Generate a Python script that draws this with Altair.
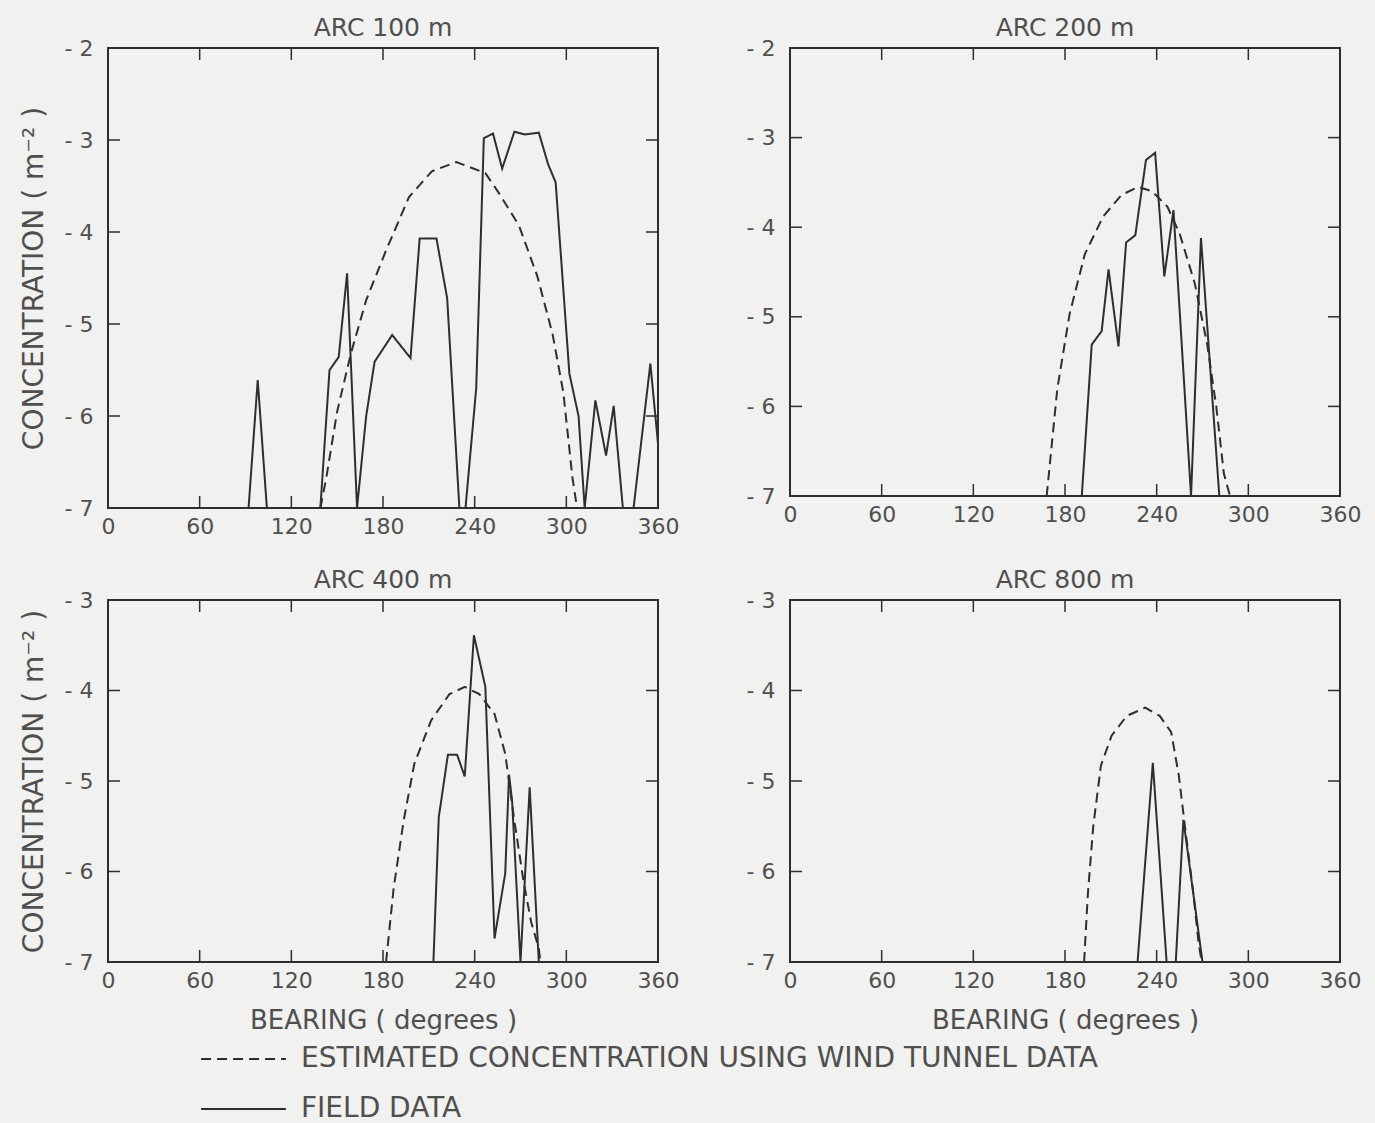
import altair as alt
import pandas as pd

# ---------------- data ----------------
TITLES = ["ARC 100 m", "ARC 200 m", "ARC 400 m", "ARC 800 m"]
EST_LABEL = "ESTIMATED CONCENTRATION USING WIND TUNNEL DATA"
FIELD_LABEL = "FIELD DATA"
Y_TITLE = "CONCENTRATION ( m\u207b\u00b2 )"
X_TITLE = "BEARING ( degrees )"

x_ticks = [0, 60, 120, 180, 240, 300, 360]
x_inner_ticks = [60, 120, 180, 240, 300]
y_ticks_top = [-2, -3, -4, -5, -6, -7]
y_ticks_bottom = [-3, -4, -5, -6, -7]

arc100_field_bearing = [92, 98, 104, 139, 145, 151, 156.5, 163, 169, 174.5, 186, 198, 204, 215, 222, 230, 234,
                        241, 246, 252, 258, 266, 273, 282, 288, 293, 302, 308, 312, 319, 326, 331, 337, 344, 355, 360]
arc100_field_conc = [-7, -5.61, -7, -7, -5.5, -5.36, -4.45, -7, -6.0, -5.41, -5.12, -5.37, -4.07, -4.07, -4.72, -7, -7,
                     -5.7, -2.98, -2.93, -3.31, -2.91, -2.94, -2.92, -3.26, -3.46, -5.54, -6.0, -7, -5.83, -6.43, -5.89,
                     -7, -7, -5.43, -6.3]
arc100_est_bearing = [139, 143, 150, 159, 169, 182, 197, 212, 228, 247, 256, 269, 281, 291, 298, 304, 307]
arc100_est_conc = [-7, -6.66, -5.95, -5.32, -4.74, -4.2, -3.62, -3.34, -3.24, -3.36, -3.58, -3.93, -4.48, -5.11,
                   -5.74, -6.67, -7]

arc200_field_bearing = [191, 197.5, 204, 208.5, 215, 220, 226, 233, 239, 245, 251, 262.5, 269, 281]
arc200_field_conc = [-7, -5.31, -5.16, -4.47, -5.33, -4.17, -4.09, -3.25, -3.17, -4.55, -3.81, -7, -4.12, -7]
arc200_est_bearing = [168, 175, 183, 193, 205, 217, 228, 237, 247, 255, 265, 273, 279, 284, 288]
arc200_est_conc = [-7, -5.8, -4.97, -4.3, -3.88, -3.64, -3.55, -3.6, -3.77, -4.07, -4.63, -5.3, -6.0, -6.75, -7]

arc400_field_bearing = [213, 216.5, 222.5, 228.5, 233.5, 239.5, 247, 253, 260, 262.5, 264.5, 270, 276, 282]
arc400_field_conc = [-7, -5.4, -4.71, -4.71, -4.95, -3.39, -3.96, -6.74, -6.02, -4.93, -5.22, -7, -5.07, -7]
arc400_est_bearing = [182, 187, 193.5, 200.5, 211.5, 223.5, 233.5, 243, 253, 260, 266, 272, 277, 282, 283]
arc400_est_conc = [-7, -6.18, -5.44, -4.81, -4.33, -4.04, -3.96, -4.04, -4.26, -4.7, -5.44, -6.11, -6.56, -6.85, -7]

arc800_field_bearing = [227.5, 237.5, 246.5, 252.5, 257.5, 270]
arc800_field_conc = [-7, -4.8, -7, -7, -5.43, -7]
arc800_est_bearing = [192.5, 195, 198.5, 203.5, 210.5, 220.5, 232.5, 242, 249.5, 254.5, 259, 264, 267.5, 269.5]
arc800_est_conc = [-7, -6.24, -5.5, -4.83, -4.5, -4.28, -4.19, -4.28, -4.46, -4.94, -5.57, -6.24, -6.8, -7]

# ---------------- style ----------------
FONT = "DejaVu Sans"
INK = "#2e2e2e"
TXT = "#4f4f4f"
BG = "#f1f1ef"
W = 550
TICK = 12


def make_df(fb, fc, eb, ec):
    rows = []
    for i, (b, c) in enumerate(zip(eb, ec)):
        rows.append({"bearing": b, "conc": c, "series": EST_LABEL, "order": i})
    for i, (b, c) in enumerate(zip(fb, fc)):
        rows.append({"bearing": b, "conc": c, "series": FIELD_LABEL, "order": i})
    return pd.DataFrame(rows)


def panel(title, df, ydom, yticks, h, show_ytitle, show_xtitle):
    xscale = alt.Scale(domain=[0, 360], nice=False, zero=False)
    yscale = alt.Scale(domain=ydom, nice=False, zero=False)
    xaxis = alt.Axis(values=x_ticks, title=X_TITLE if show_xtitle else None, domain=False, ticks=False,
                     grid=False, labelPadding=8, labelFontSize=22, labelColor=TXT, labelFont=FONT,
                     titleFont=FONT, titleFontSize=26, titleColor=TXT, titleFontWeight="normal",
                     titlePadding=16, labelFlush=False)
    yaxis = alt.Axis(values=yticks, title=Y_TITLE if show_ytitle else None, domain=False, ticks=False,
                     grid=False, labelPadding=15, labelFontSize=22, labelColor=TXT, labelFont=FONT,
                     labelExpr="'- ' + abs(datum.value)",
                     titleFont=FONT, titleFontSize=28, titleColor=TXT, titleFontWeight="normal",
                     titlePadding=16)
    lines = alt.Chart(df).mark_line(strokeWidth=2, color=INK).encode(
        x=alt.X("bearing:Q", scale=xscale, axis=xaxis),
        y=alt.Y("conc:Q", scale=yscale, axis=yaxis),
        strokeDash=alt.StrokeDash(
            "series:N",
            scale=alt.Scale(domain=[EST_LABEL, FIELD_LABEL], range=[[10, 6], [1, 0]]),
            legend=alt.Legend(title=None, orient="none", legendX=92, legendY=986,
                              direction="vertical", symbolType="stroke", symbolSize=7200,
                              symbolStrokeWidth=2, symbolStrokeColor=INK, labelFont=FONT,
                              labelFontSize=28, labelColor=TXT, rowPadding=0, clipHeight=50,
                              labelOffset=14, labelLimit=1200, padding=0),
        ),
        order="order:Q",
    )
    xt = pd.DataFrame({"v": x_inner_ticks})
    yt = pd.DataFrame({"v": yticks[1:-1]})
    bottom_t = alt.Chart(xt).mark_rule(color=INK, strokeWidth=1.5).encode(
        x=alt.X("v:Q", scale=xscale), y=alt.value(h - TICK), y2=alt.value(h))
    top_t = alt.Chart(xt).mark_rule(color=INK, strokeWidth=1.5).encode(
        x=alt.X("v:Q", scale=xscale), y=alt.value(0), y2=alt.value(TICK))
    left_t = alt.Chart(yt).mark_rule(color=INK, strokeWidth=1.5).encode(
        y=alt.Y("v:Q", scale=yscale), x=alt.value(0), x2=alt.value(TICK))
    right_t = alt.Chart(yt).mark_rule(color=INK, strokeWidth=1.5).encode(
        y=alt.Y("v:Q", scale=yscale), x=alt.value(W - TICK), x2=alt.value(W))
    return alt.layer(lines, bottom_t, top_t, left_t, right_t).properties(
        width=W, height=h,
        title=alt.TitleParams(title, font=FONT, fontSize=25, color=TXT, fontWeight="normal", offset=-4),
    )


p1 = panel(TITLES[0], make_df(arc100_field_bearing, arc100_field_conc, arc100_est_bearing, arc100_est_conc),
           [-7, -2], y_ticks_top, 460, True, False)
p2 = panel(TITLES[1], make_df(arc200_field_bearing, arc200_field_conc, arc200_est_bearing, arc200_est_conc),
           [-7, -2], y_ticks_top, 448, False, False)
p3 = panel(TITLES[2], make_df(arc400_field_bearing, arc400_field_conc, arc400_est_bearing, arc400_est_conc),
           [-7, -3], y_ticks_bottom, 362, True, True)
p4 = panel(TITLES[3], make_df(arc800_field_bearing, arc800_field_conc, arc800_est_bearing, arc800_est_conc),
           [-7, -3], y_ticks_bottom, 362, False, True)

chart = alt.vconcat(
    alt.hconcat(p1, p2, spacing=65),
    alt.hconcat(p3, p4, spacing=65),
    spacing=29,
).properties(
    background=BG,
    padding={"left": 19, "top": 15, "right": 13, "bottom": 0},
).configure_view(stroke=INK, strokeWidth=2)

chart.save("out.html", embed_options={"renderer": "svg", "actions": False})
